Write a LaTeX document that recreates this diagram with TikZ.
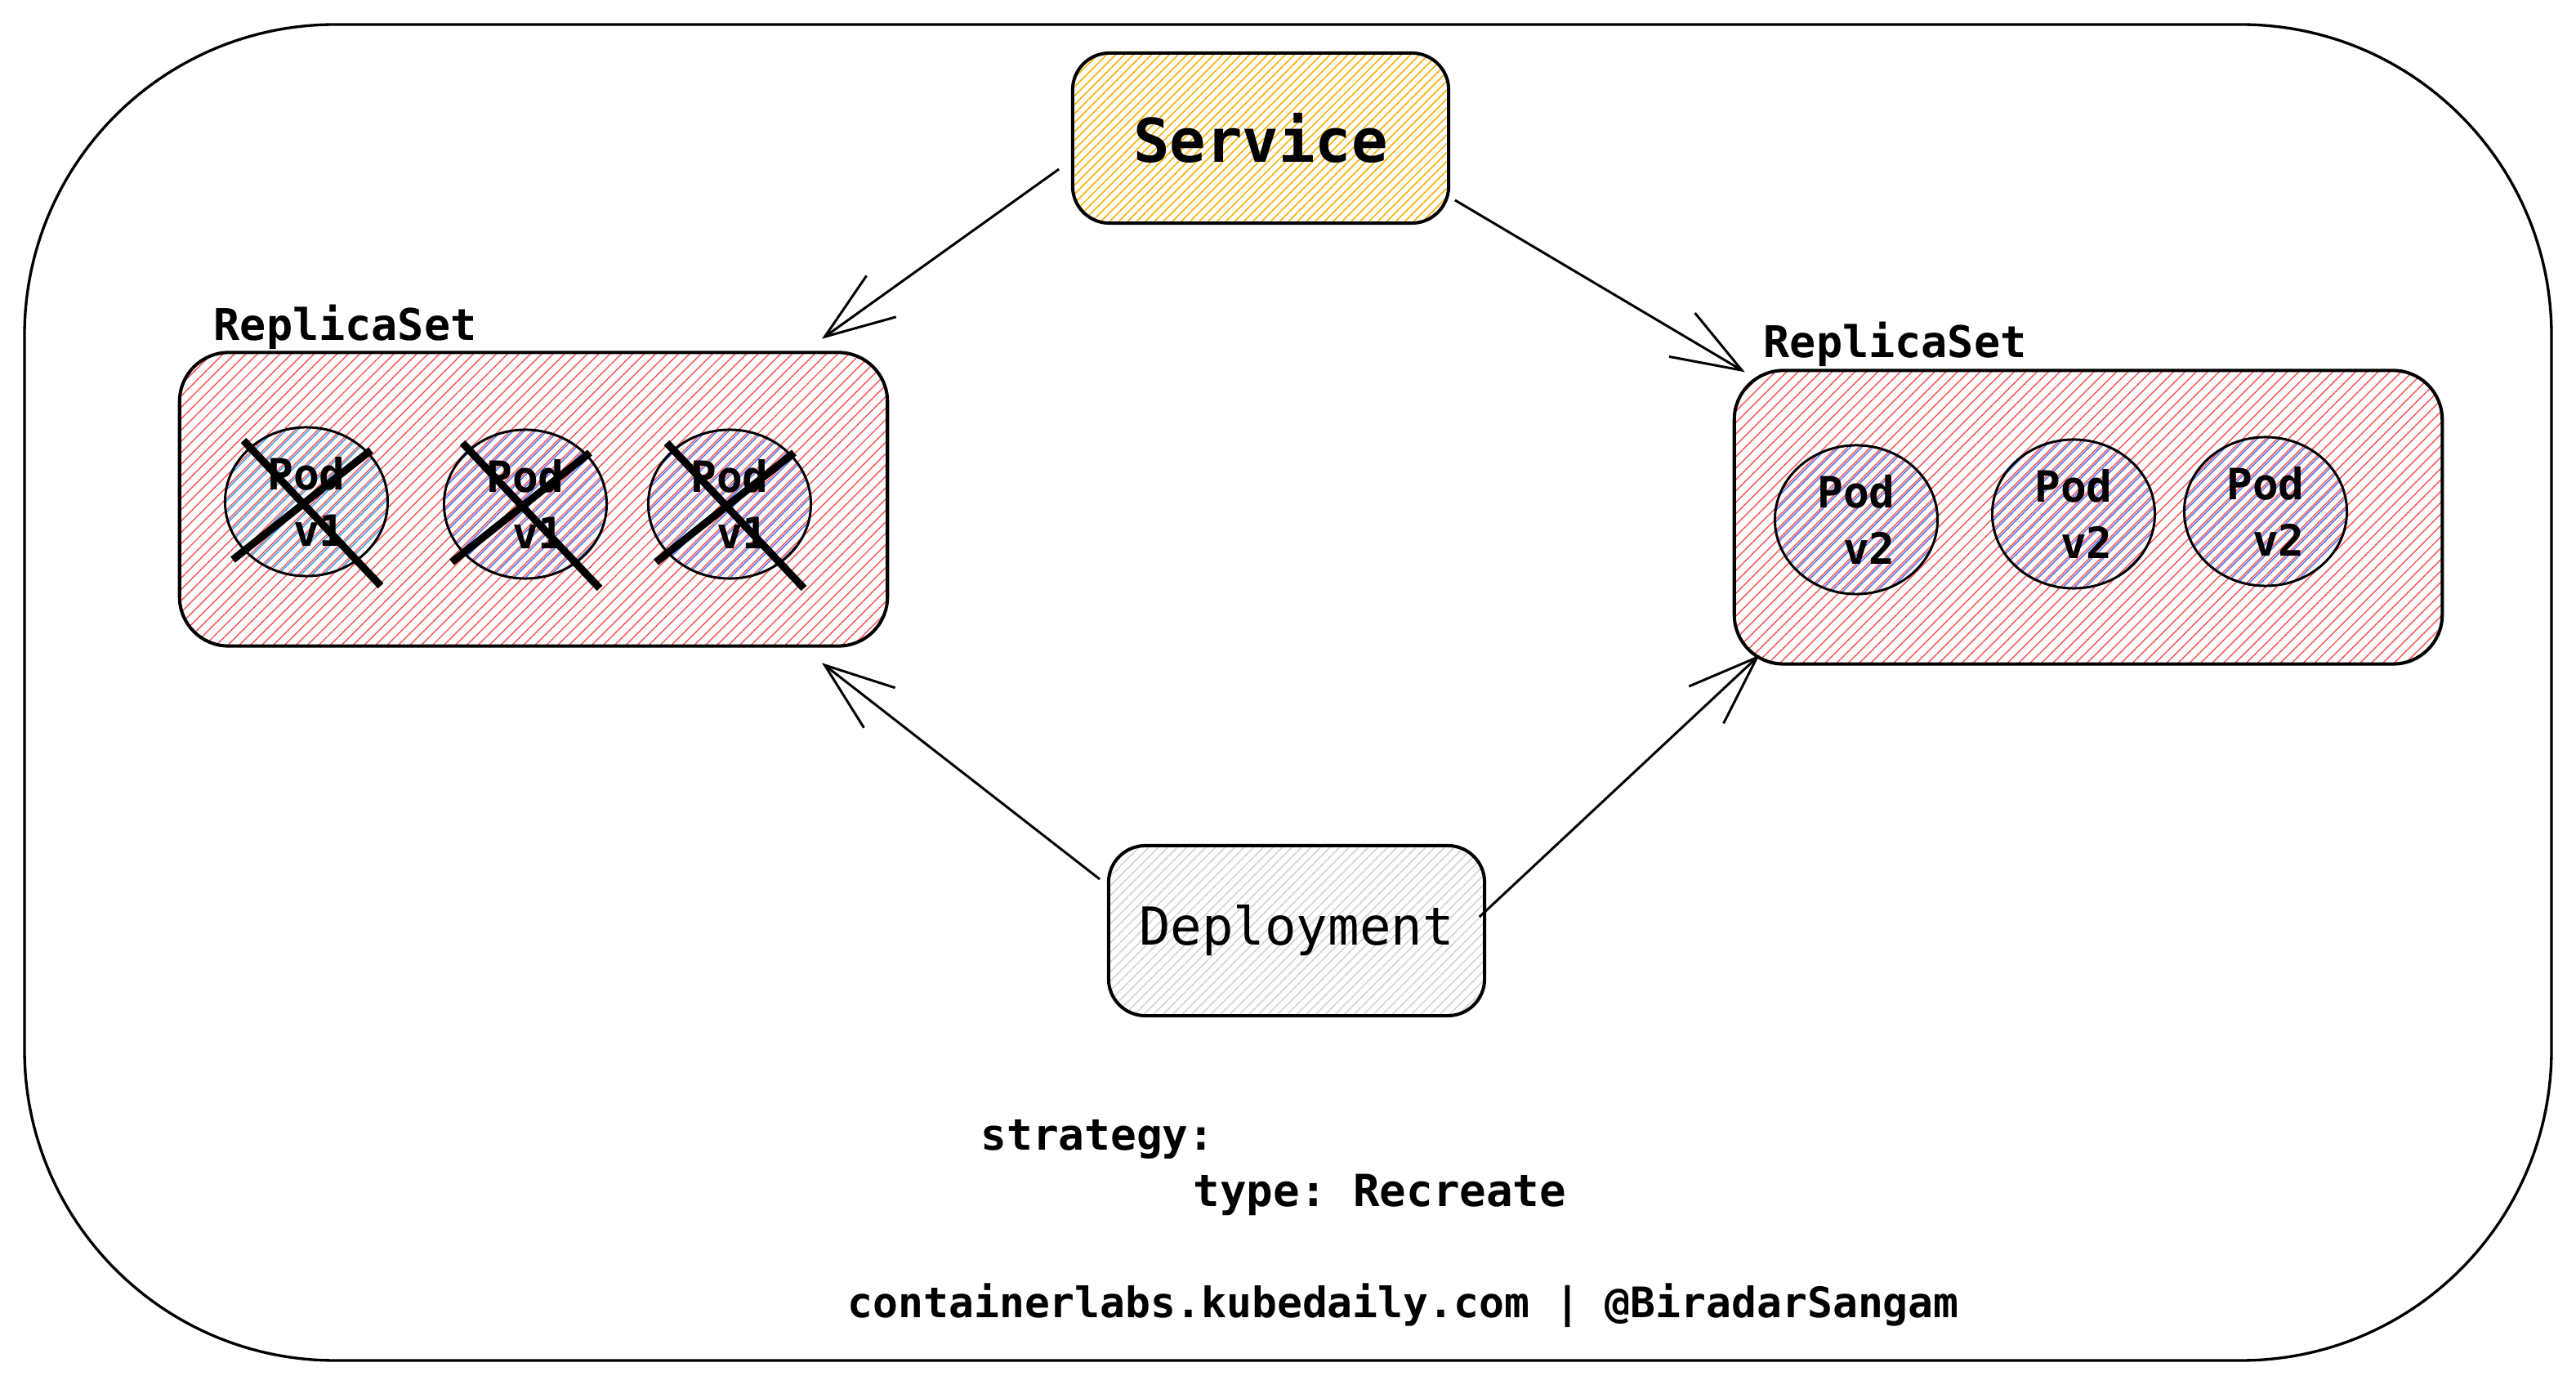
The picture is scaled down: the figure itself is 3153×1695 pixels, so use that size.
\documentclass[tikz,border=0pt]{standalone}
\usepackage{fontspec}
\setmonofont{DejaVu Sans Mono}
\usetikzlibrary{patterns.meta,arrows.meta,shapes.geometric}
\definecolor{hatchred}{HTML}{FA5252}
\definecolor{hatchamber}{HTML}{FAB005}
\definecolor{hatchgray}{HTML}{CED4DA}
\definecolor{podblue}{HTML}{4C6EF5}
\definecolor{podcyan}{HTML}{339AF0}

\begin{document}
\begin{tikzpicture}[x=0.01cm,y=-0.01cm,
        box/.style={draw=black, line width=1.15pt,
            rectangle, rounded corners=0.45cm,
            minimum width=4.6cm, minimum height=2.08cm},
        rsbox/.style={draw=black, line width=1.15pt,
            rectangle, rounded corners=0.6cm,
            minimum width=8.66cm, minimum height=3.59cm,
            pattern={Lines[angle=45,distance=2.8pt,line width=0.4pt]},
            pattern color=hatchred},
        pod/.style={draw=black, line width=0.85pt,
            ellipse, inner sep=0pt, minimum width=1.99cm, minimum height=1.82cm,
            align=left, font=\ttfamily\bfseries\fontsize{15}{19.6}\selectfont,
            pattern={Lines[angle=45,distance=2.8pt,line width=0.4pt,xshift=0.9pt]},
            pattern color=#1},
        rstitle/.style={anchor=base west, inner sep=0pt,
            font=\ttfamily\bfseries\fontsize{15.2}{18}\selectfont},
        code/.style={anchor=base west, inner sep=0pt,
            font=\ttfamily\bfseries\fontsize{#1}{18}\selectfont},
        arr/.style={line width=0.85pt,
            -{Straight Barb[length=0.85cm,width=0.62cm]}},
        cross/.style={line width=2.6pt}]
        \useasboundingbox (0,0) rectangle (3153,1695);
        %frame
        \draw[line width=0.95pt, rounded corners=3.8cm] (30,30) rectangle (3123,1665);
        %service and deployment
        \node[box, pattern={Lines[angle=45,distance=2.2pt,line width=0.45pt]},
            pattern color=hatchamber,
            font=\ttfamily\bfseries\fontsize{21}{25}\selectfont]
            (service) at (1543,169) {Service};
        \node[box, pattern={Lines[angle=45,distance=2.35pt,line width=0.45pt]},
            pattern color=hatchgray,
            font=\ttfamily\fontsize{18.2}{22}\selectfont]
            (deploy) at (1587,1139) {Deployment};
        %replica sets
        \node[rsbox] (rsold) at (653,611) {};
        \node[rsbox] (rsnew) at (2556,633) {};
        \node[rstitle] (rsoldtitle) at (261,417) {ReplicaSet};
        \node[rstitle] (rsnewtitle) at (2158,438) {ReplicaSet};
        %pods
        \foreach \n/\x/\y/\c in {l1/375/614/podcyan,l2/643/617/podblue,l3/893/617/podblue}
        \node[pod=\c] (\n) at (\x,\y) {Pod\\\phantom{P}v1};
        \foreach \n/\x/\y in {r1/2272/636,r2/2538/629,r3/2773/626}
        \node[pod=podblue] (\n) at (\x,\y) {Pod\\\phantom{P}v2};
        %crossed out
        \foreach \n in {l1,l2,l3}{
            \draw[cross] ([shift={(-77,-75)}]\n.center) -- ([shift={(91,103)}]\n.center);
            \draw[cross] ([shift={(-90,71)}]\n.center) -- ([shift={(79,-63)}]\n.center);
        }
        %arrows
        \draw[arr] ([shift={(-16,38)}]service.west) -- ([shift={(-81,-16)}]rsold.north east);
        \draw[arr] ([shift={(7,76)}]service.east) -- ([shift={(15,4)}]rsnew.north west);
        \draw[arr] ([shift={(-10,-63)}]deploy.west) -- ([shift={(-81,20)}]rsold.south east);
        \draw[arr] ([shift={(-7,-17)}]deploy.east) -- ([shift={(33,-13)}]rsnew.south west);
        %strategy
        \node[code=15] (strat) at (1200,1408) {strategy:};
        \node[code=15.4] (stype) at (1460,1477) {type: Recreate};
        \node[code=14.6] (credit) at (1037,1613) {containerlabs.kubedaily.com | @BiradarSangam};
    \end{tikzpicture}
\end{document}
